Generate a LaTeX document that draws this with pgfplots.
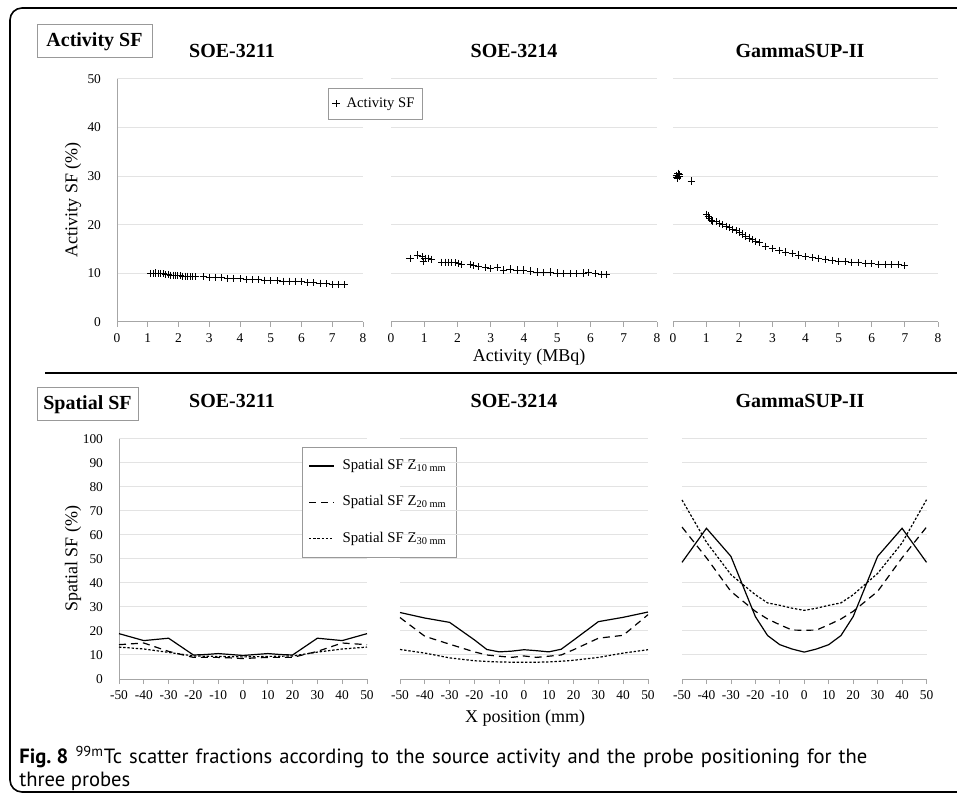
\documentclass[border=0pt]{standalone}
\usepackage{pgfplots}
\pgfplotsset{compat=1.18}
\usepackage{fontspec}
\setmainfont{Liberation Serif}
\newfontfamily\capfont{PT Sans}

\pgfplotsset{
  panel/.style={
    scale only axis, clip=false,
    axis line style={draw=none},
    ymajorgrids, grid style={gray!22, line width=0.5pt},
    tick align=outside, xtick pos=left,
    ytick style={draw=none},
    major tick length=2.5pt,
    xtick style={gray!70, line width=0.4pt},
    tick label style={font=\fontsize{6.7}{8}\selectfont},
    yticklabel style={xshift=-2pt},
    /pgf/number format/assume math mode=true,
  },
  activity/.style={panel, height=121.5pt,
    xmin=0, xmax=8, ymin=0, ymax=50,
    xtick={0,1,...,8}, ytick={0,10,...,50}},
  spatial/.style={panel, height=120pt,
    xmin=-50, xmax=50, ymin=0, ymax=100,
    xtick={-50,-40,...,50}, ytick={0,10,...,100}},
  sf/.style={only marks, mark=+, mark size=1.8pt, black, mark options={line width=0.4pt}},
  z10/.style={black, line width=0.6pt},
  z20/.style={black, line width=0.6pt, dash pattern=on 3.5pt off 2.5pt},
  z30/.style={black, line width=0.6pt, dash pattern=on 1.2pt off 0.9pt},
}

\begin{document}
\begin{tikzpicture}
\useasboundingbox (0,0) rectangle (478.5pt,398.5pt);
\fill[white] (0,0) rectangle (478.5pt,398.5pt);

% outer frame
\draw[line width=0.8pt, rounded corners=6pt] (490pt,394.5pt) -- (5pt,394.5pt) -- (5pt,2.5pt) -- (490pt,2.5pt);

% ---------------- Activity SF ----------------
\begin{axis}[activity, at={(58.5pt,237.5pt)}, width=123pt,
  legend style={at={(0.858,0.963)}, anchor=north west, draw=gray!80,
    font=\fontsize{7.3}{9}\selectfont, inner xsep=2pt, inner ysep=2.5pt,
    column sep=1.5pt},
  legend cell align=left]
\draw[gray!70, line width=0.5pt] (rel axis cs:0,0) -- (rel axis cs:1,0);
\draw[gray!70, line width=0.5pt] (rel axis cs:0,0) -- (rel axis cs:0,1);
\addplot[sf] coordinates {
(1.10,10.0)(1.18,10.0)(1.26,10.1)(1.34,10.0)(1.42,10.0)(1.50,9.9)(1.58,9.8)
(1.66,9.7)(1.74,9.6)(1.82,9.6)(1.90,9.6)(1.98,9.5)(2.06,9.5)(2.14,9.4)
(2.22,9.4)(2.30,9.4)(2.38,9.3)(2.46,9.3)(2.56,9.3)(2.80,9.3)(3.00,9.2)
(3.20,9.2)(3.40,9.1)(3.60,9.0)(3.80,9.0)(4.00,8.9)(4.20,8.8)(4.40,8.7)
(4.60,8.7)(4.80,8.6)(5.00,8.5)(5.20,8.5)(5.40,8.4)(5.60,8.4)(5.80,8.3)
(6.00,8.3)(6.20,8.1)(6.40,8.1)(6.60,8.0)(6.80,7.9)(7.00,7.7)(7.20,7.7)(7.40,7.7)};
\addlegendentry{Activity SF}
\end{axis}

\begin{axis}[activity, at={(195.5pt,237.5pt)}, width=133pt, yticklabels={}]
\draw[gray!70, line width=0.5pt] (rel axis cs:0,0) -- (rel axis cs:1,0);
\addplot[sf] coordinates {
(0.57,13.1)(0.79,13.8)(0.95,13.4)(0.97,12.4)(1.02,13.1)(1.12,13.1)(1.22,12.9)
(1.53,12.3)(1.63,12.3)(1.73,12.3)(1.83,12.2)(1.93,12.2)(2.03,12.1)(2.13,11.9)
(2.38,11.9)(2.48,11.6)(2.63,11.4)(2.83,11.2)(3.00,11.0)(3.20,11.2)(3.38,10.7)
(3.58,10.9)(3.79,10.7)(3.98,10.7)(4.19,10.5)(4.39,10.3)(4.59,10.2)(4.79,10.3)
(4.99,10.1)(5.19,10.0)(5.39,10.0)(5.59,9.9)(5.79,10.1)(5.94,10.2)(6.14,9.9)
(6.34,9.7)(6.47,9.7)};
\end{axis}

\begin{axis}[activity, at={(336.5pt,237.5pt)}, width=132.5pt, yticklabels={}]
\draw[gray!70, line width=0.5pt] (rel axis cs:0,0) -- (rel axis cs:1,0);
\addplot[sf] coordinates {
(0.10,30.2)(0.12,29.8)(0.13,29.6)(0.15,30.6)(0.18,30.0)(0.20,30.3)(0.55,29.0)
(1.02,22.2)(1.06,21.8)(1.10,21.3)(1.15,21.0)(1.20,20.8)(1.30,20.6)(1.40,20.3)
(1.50,20.0)(1.60,19.7)(1.70,19.4)(1.80,19.1)(1.90,18.8)(2.00,18.5)(2.10,18.1)
(2.20,17.7)(2.30,17.3)(2.40,17.0)(2.50,16.6)(2.60,16.3)(2.80,15.6)(3.00,15.1)
(3.20,14.7)(3.40,14.4)(3.60,14.1)(3.80,13.8)(4.00,13.5)(4.20,13.3)(4.40,13.1)
(4.60,12.9)(4.80,12.7)(5.00,12.5)(5.20,12.4)(5.40,12.3)(5.60,12.2)(5.80,12.1)
(6.00,12.0)(6.20,11.9)(6.40,11.9)(6.60,11.8)(6.80,11.8)(7.00,11.6)};
\end{axis}

% ---------------- Spatial SF ----------------
\begin{axis}[spatial, at={(59.5pt,59pt)}, width=124pt,
  legend style={at={(0.738,0.967)}, anchor=north west, draw=gray!80,
    font=\fontsize{7.4}{9}\selectfont, inner xsep=3pt, inner ysep=4pt,
    row sep=7.5pt, column sep=2pt},
  legend cell align=left,
  legend image code/.code={\draw[#1] (0pt,0pt) -- (12.5pt,0pt);}]
\draw[gray!70, line width=0.5pt] (rel axis cs:0,0) -- (rel axis cs:1,0);
\draw[gray!70, line width=0.5pt] (rel axis cs:0,0) -- (rel axis cs:0,1);
\addplot[z10] coordinates {(-50,18.9)(-40,16.0)(-30,17.0)(-20,10.0)(-15,10.2)(-10,10.6)(-5,10.2)(0,9.8)(5,10.2)(10,10.6)(15,10.2)(20,10.0)(30,17.0)(40,16.0)(50,18.9)};
\addlegendentry{Spatial SF Z\textsubscript{10 mm}}
\addplot[z20] coordinates {(-50,14.3)(-40,15.0)(-30,11.5)(-20,9.0)(-15,9.0)(-10,9.0)(-5,8.8)(0,8.5)(5,8.8)(10,9.0)(15,9.0)(20,9.0)(30,11.5)(40,15.0)(50,14.3)};
\addlegendentry{Spatial SF Z\textsubscript{20 mm}}
\addplot[z30] coordinates {(-50,13.3)(-40,12.5)(-30,11.1)(-20,9.6)(-15,9.5)(-10,9.4)(-5,9.3)(0,9.2)(5,9.3)(10,9.4)(15,9.5)(20,9.6)(30,11.2)(40,12.5)(50,13.3)};
\addlegendentry{Spatial SF Z\textsubscript{30 mm}}
\end{axis}

\begin{axis}[spatial, at={(200pt,59pt)}, width=124pt, yticklabels={}]
\draw[gray!70, line width=0.5pt] (rel axis cs:0,0) -- (rel axis cs:1,0);
\addplot[z10] coordinates {(-50,27.7)(-40,25.4)(-30,23.6)(-20,16.3)(-15,12.3)(-10,11.3)(-5,11.6)(0,12.2)(5,11.8)(10,11.3)(15,12.4)(20,16.2)(30,23.9)(40,25.7)(50,27.9)};
\addplot[z20] coordinates {(-50,25.6)(-40,17.8)(-30,14.5)(-20,11.3)(-15,10.0)(-10,9.5)(-5,9.0)(0,9.6)(5,9.0)(10,9.5)(15,10.0)(20,12.2)(30,17.0)(40,18.2)(50,26.8)};
\addplot[z30] coordinates {(-50,12.3)(-40,10.8)(-30,8.8)(-20,7.6)(-15,7.3)(-10,7.1)(-5,7.0)(0,7.0)(5,7.0)(10,7.1)(15,7.4)(20,7.8)(30,9.0)(40,10.8)(50,12.2)};
\end{axis}

\begin{axis}[spatial, at={(341pt,59pt)}, width=122.25pt, yticklabels={}]
\draw[gray!70, line width=0.5pt] (rel axis cs:0,0) -- (rel axis cs:1,0);
\addplot[z10] coordinates {(-50,48.6)(-40,62.8)(-30,51.1)(-20,26.0)(-15,18.1)(-10,14.3)(-5,12.5)(0,11.2)(5,12.5)(10,14.3)(15,18.1)(20,26.0)(30,51.1)(40,62.8)(50,48.6)};
\addplot[z20] coordinates {(-50,63.3)(-40,50.5)(-30,36.5)(-20,28.2)(-15,25.0)(-10,22.6)(-5,20.4)(0,20.3)(5,20.4)(10,22.6)(15,25.0)(20,28.2)(30,36.5)(40,50.5)(50,63.3)};
\addplot[z30] coordinates {(-50,74.6)(-40,57.0)(-30,43.5)(-20,35.1)(-15,31.7)(-10,30.7)(-5,29.5)(0,28.6)(5,29.5)(10,30.7)(15,31.7)(20,35.1)(30,44.0)(40,56.7)(50,74.7)};
\end{axis}

% ---------------- labels ----------------
\draw[gray!80, line width=0.5pt] (18.5pt,386pt) rectangle (76pt,369.5pt);
\node[font=\fontsize{10}{12}\selectfont\bfseries] at (47.25pt,377.75pt) {Activity SF};
\node[font=\fontsize{10}{12}\selectfont\bfseries] at (116pt,373pt) {SOE-3211};
\node[font=\fontsize{10}{12}\selectfont\bfseries] at (257pt,373pt) {SOE-3214};
\node[font=\fontsize{10}{12}\selectfont\bfseries] at (400pt,373pt) {GammaSUP-II};
\node[rotate=90, font=\fontsize{9}{11}\selectfont] at (36.5pt,298.5pt) {Activity SF (\%)};
\node[font=\fontsize{9}{11}\selectfont] at (264.5pt,220pt) {Activity (MBq)};

\draw[line width=0.8pt] (22.5pt,212pt) -- (490pt,212pt);

\draw[gray!80, line width=0.5pt] (18.5pt,204.5pt) rectangle (69pt,188pt);
\node[font=\fontsize{10}{12}\selectfont\bfseries] at (43.75pt,196.25pt) {Spatial SF};
\node[font=\fontsize{10}{12}\selectfont\bfseries] at (116pt,198pt) {SOE-3211};
\node[font=\fontsize{10}{12}\selectfont\bfseries] at (257pt,198pt) {SOE-3214};
\node[font=\fontsize{10}{12}\selectfont\bfseries] at (400pt,198pt) {GammaSUP-II};
\node[rotate=90, font=\fontsize{9}{11}\selectfont] at (36.5pt,119pt) {Spatial SF (\%)};
\node[font=\fontsize{9}{11}\selectfont] at (262.5pt,39.5pt) {X position (mm)};

% caption: first line justified to the full measure
\node[anchor=west, inner sep=0pt, font=\capfont\fontsize{10.3}{12}\selectfont] at (9.5pt,20pt)
  {\makebox[424pt][s]{\mbox{\textbf{Fig.\ 8}} \textsuperscript{99m}Tc scatter fractions according to the source activity and the probe positioning for the}};
\node[anchor=west, inner sep=0pt, font=\capfont\fontsize{10.3}{12}\selectfont] at (9.5pt,8pt) {three probes};
\end{tikzpicture}
\end{document}
